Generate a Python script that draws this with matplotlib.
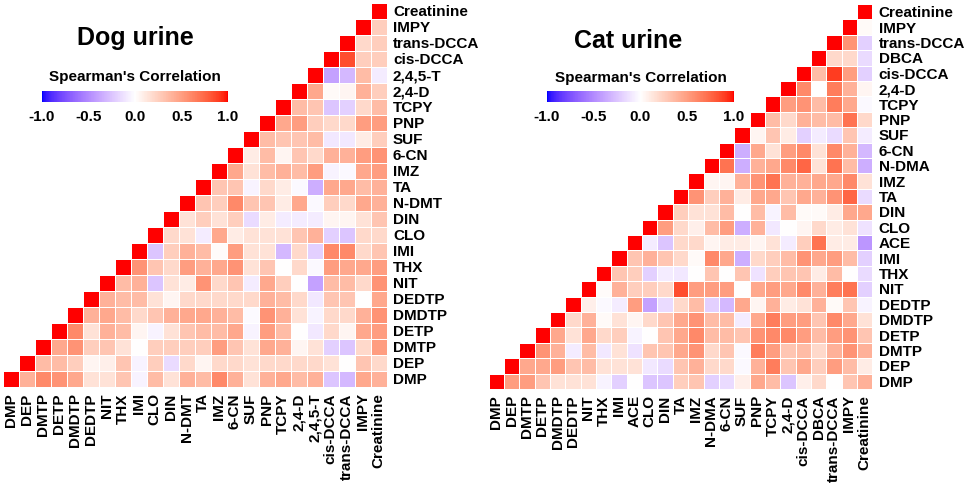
import numpy as np
import matplotlib
matplotlib.use("Agg")
import matplotlib.pyplot as plt
from matplotlib.colors import ListedColormap, Normalize
from matplotlib.cm import ScalarMappable

plt.rcParams['font.family'] = ['Liberation Sans', 'DejaVu Sans']
plt.rcParams['font.weight'] = 'bold'
plt.rcParams['axes.unicode_minus'] = False

# ============ DATA ============
# each row holds the correlations of that compound with the ones after it
dog_labels = ["DMP", "DEP", "DMTP", "DETP", "DMDTP", "DEDTP", "NIT", "THX", "IMI", "CLO",
              "DIN", "N-DMT", "TA", "IMZ", "6-CN", "SUF", "PNP", "TCPY", "2,4-D", "2,4,5-T",
              "cis-DCCA", "trans-DCCA", "IMPY", "Creatinine"]
dog_rows = [
    [0.4, 0.6, 0.55, 0.45, 0.15, 0.15, 0.3, -0.05, 0.35, 0.15, 0.4, 0.35, 0.6, 0.4, 0.15, 0.4, 0.45, 0.35, 0.4, -0.25, -0.3, 0.45, 0.4],
    [0.35, 0.35, 0.25, 0.05, 0.08, 0.3, -0.05, 0.25, -0.15, 0.2, 0.05, 0.2, 0.2, 0.15, 0.2, 0.2, 0.2, 0.2, 0.15, 0.0, 0.3, 0.2],
    [0.45, 0.55, 0.25, 0.3, 0.15, 0.0, 0.25, 0.25, 0.25, 0.25, 0.5, 0.3, 0.15, 0.45, 0.4, 0.05, 0.15, -0.2, -0.25, 0.2, 0.5],
    [0.6, 0.15, 0.4, 0.35, 0.05, -0.05, 0.15, 0.3, 0.35, 0.35, 0.45, -0.05, 0.5, 0.35, 0.0, -0.1, 0.2, 0.05, 0.45, 0.5],
    [0.4, 0.45, 0.35, 0.2, 0.3, 0.4, 0.45, 0.45, 0.4, 0.35, -0.02, 0.55, 0.4, 0.15, -0.05, 0.2, 0.2, 0.4, 0.55],
    [0.4, 0.35, 0.35, 0.15, 0.05, 0.2, 0.2, 0.2, 0.2, 0.2, 0.4, 0.35, 0.2, -0.1, 0.3, 0.3, 0.0, 0.45],
    [0.35, 0.4, -0.25, 0.15, 0.1, 0.55, 0.2, 0.3, -0.08, 0.45, 0.25, 0.0, -0.4, 0.35, 0.35, 0.2, 0.55],
    [0.55, 0.3, 0.2, 0.5, 0.4, 0.45, 0.55, 0.15, 0.3, 0.0, 0.2, -0.03, 0.5, 0.45, 0.45, 0.5],
    [-0.25, 0.25, 0.4, 0.35, 0.02, 0.5, 0.15, 0.15, -0.3, 0.2, -0.2, 0.6, 0.6, 0.2, 0.3],
    [0.2, 0.15, -0.08, 0.45, 0.1, 0.15, 0.15, 0.15, 0.3, 0.4, -0.2, -0.25, 0.2, 0.2],
    [0.15, 0.25, 0.15, 0.25, -0.15, 0.1, -0.08, -0.08, -0.08, 0.05, 0.05, 0.15, 0.3],
    [0.3, 0.25, 0.6, 0.3, 0.3, 0.1, 0.45, -0.03, 0.25, 0.2, 0.45, 0.4],
    [0.3, 0.3, -0.05, 0.2, 0.1, -0.03, -0.35, 0.45, 0.45, 0.35, 0.4],
    [0.45, 0.15, 0.35, 0.4, 0.35, 0.5, -0.05, -0.03, 0.45, 0.5],
    [0.1, 0.35, 0.05, 0.3, 0.2, 0.4, 0.4, 0.5, 0.55],
    [0.35, 0.3, 0.3, 0.35, -0.1, -0.1, 0.1, 0.25],
    [0.45, 0.5, 0.25, 0.2, 0.2, 0.5, 0.5],
    [0.35, 0.3, -0.25, -0.2, 0.2, 0.35],
    [0.45, 0.03, 0.05, 0.4, 0.25],
    [-0.4, -0.3, 0.35, -0.08],
    [0.85, 0.25, 0.25],
    [0.2, 0.25],
    [0.25],
    [],
]

cat_labels = ["DMP", "DEP", "DMTP", "DETP", "DMDTP", "DEDTP", "NIT", "THX", "IMI", "ACE",
              "CLO", "DIN", "TA", "IMZ", "N-DMA", "6-CN", "SUF", "PNP", "TCPY", "2,4-D",
              "cis-DCCA", "DBCA", "trans-DCCA", "IMPY", "Creatinine"]
cat_rows = [
    [0.5, 0.5, 0.3, 0.15, 0.15, 0.15, -0.05, -0.2, 0.0, -0.25, -0.25, 0.25, 0.3, -0.2, -0.15, 0.08, 0.45, 0.35, -0.25, 0.08, 0.2, 0.0, 0.3, 0.4],
    [0.45, 0.45, 0.5, 0.3, 0.35, 0.15, 0.15, 0.15, -0.1, -0.15, 0.3, 0.4, 0.2, 0.2, -0.03, 0.4, 0.65, 0.3, 0.45, 0.25, 0.5, 0.35, 0.1],
    [0.55, 0.4, -0.08, 0.35, -0.1, 0.15, -0.12, 0.3, 0.3, 0.45, 0.55, 0.2, 0.3, -0.03, 0.65, 0.5, 0.3, 0.35, 0.2, 0.4, 0.55, 0.4],
    [0.45, 0.15, 0.45, 0.2, 0.25, -0.05, 0.0, 0.3, 0.45, 0.6, 0.35, 0.35, 0.3, 0.55, 0.6, 0.6, 0.5, 0.35, 0.5, 0.55, 0.3],
    [0.2, 0.4, 0.03, 0.15, 0.05, 0.2, 0.3, 0.45, 0.55, 0.35, 0.35, -0.08, 0.45, 0.65, 0.5, 0.5, 0.3, 0.6, 0.45, 0.15],
    [0.08, -0.03, -0.08, 0.5, -0.4, -0.15, 0.2, 0.35, -0.2, -0.3, 0.45, 0.05, 0.4, 0.1, 0.15, 0.4, 0.03, 0.3, -0.05],
    [0.02, 0.4, 0.25, 0.25, 0.2, 0.85, 0.5, 0.5, 0.5, 0.0, 0.45, 0.5, 0.45, 0.6, 0.4, 0.65, 0.7, -0.2],
    [0.3, 0.25, -0.2, -0.08, -0.1, 0.0, 0.3, 0.0, 0.3, -0.12, 0.25, 0.3, 0.3, 0.1, 0.35, 0.0, -0.15],
    [0.3, 0.4, 0.3, 0.2, 0.03, 0.6, 0.45, -0.35, 0.2, 0.25, 0.35, 0.55, 0.45, 0.5, 0.35, -0.2],
    [-0.08, -0.25, 0.2, 0.2, 0.05, 0.1, 0.1, 0.05, 0.15, -0.08, 0.25, 0.7, 0.1, 0.1, -0.45],
    [0.5, 0.2, 0.08, 0.35, 0.5, -0.35, 0.4, -0.1, 0.0, 0.05, 0.2, 0.1, 0.15, -0.12],
    [0.25, 0.15, 0.15, 0.35, 0.0, 0.35, -0.05, 0.35, 0.03, 0.03, 0.1, 0.45, 0.45],
    [0.55, 0.25, 0.4, 0.1, 0.45, 0.45, 0.3, 0.45, 0.4, 0.55, 0.75, -0.15],
    [0.05, 0.05, 0.4, 0.55, 0.7, 0.4, 0.4, 0.45, 0.45, 0.6, 0.15],
    [0.7, -0.35, 0.4, 0.45, 0.6, 0.75, 0.15, 0.7, 0.35, -0.35],
    [-0.35, 0.45, 0.15, 0.5, 0.6, 0.15, 0.6, 0.4, -0.3],
    [0.05, 0.3, 0.1, -0.2, -0.08, -0.15, 0.3, -0.08],
    [0.35, 0.2, 0.4, 0.35, 0.35, 0.7, 0.2],
    [0.5, 0.55, 0.35, 0.65, 0.45, -0.03],
    [0.6, 0.0, 0.65, 0.4, 0.05],
    [0.35, 0.9, 0.5, -0.2],
    [0.2, 0.2, -0.15],
    [0.55, -0.2],
    [0.03],
    [],
]

cbar_ticks = [-1.0, -0.5, 0.0, 0.5, 1.0]

# ============ COLOURS (blue - white - red, mixed in Lab) ============
M_RGB2XYZ = np.array([[0.4124564, 0.3575761, 0.1804375],
                      [0.2126729, 0.7151522, 0.0721750],
                      [0.0193339, 0.1191920, 0.9503041]])
WHITE_XYZ = np.array([0.95047, 1.0, 1.08883])


def srgb_to_lab(c):
    c = np.asarray(c, float)
    lin = np.where(c <= 0.04045, c / 12.92, ((c + 0.055) / 1.055) ** 2.4)
    t = (lin @ M_RGB2XYZ.T) / WHITE_XYZ
    d = 6 / 29
    f = np.where(t > d ** 3, np.cbrt(t), t / (3 * d * d) + 4 / 29)
    return np.stack([116 * f[..., 1] - 16,
                     500 * (f[..., 0] - f[..., 1]),
                     200 * (f[..., 1] - f[..., 2])], -1)


def lab_to_srgb(lab):
    fy = (lab[..., 0] + 16) / 116
    f = np.stack([fy + lab[..., 1] / 500, fy, fy - lab[..., 2] / 200], -1)
    d = 6 / 29
    t = np.where(f > d, f ** 3, 3 * d * d * (f - 4 / 29))
    lin = np.clip((t * WHITE_XYZ) @ np.linalg.inv(M_RGB2XYZ).T, 0, 1)
    c = np.where(lin <= 0.0031308, 12.92 * lin, 1.055 * lin ** (1 / 2.4) - 0.055)
    return np.clip(c, 0, 1)


lab_blue = srgb_to_lab([0, 0, 1])
lab_white = srgb_to_lab([1, 1, 1])
lab_red = srgb_to_lab([1, 0, 0])
steps = np.linspace(-1, 1, 256)
lab_cols = np.array([lab_white + (-s) * (lab_blue - lab_white) if s < 0
                     else lab_white + s * (lab_red - lab_white) for s in steps])
cmap = ListedColormap(lab_to_srgb(lab_cols))
norm = Normalize(vmin=-1, vmax=1)


def draw_panel(ax, labels, rows):
    n = len(labels)
    mat = np.full((n, n), np.nan)
    for r, vals in enumerate(rows):
        mat[r, r] = 1.0
        mat[r, r + 1:] = vals
    ax.pcolormesh(np.arange(n + 1), np.arange(n + 1), np.ma.masked_invalid(mat),
                  cmap=cmap, norm=norm, edgecolors='white', linewidth=0.4)
    ax.set_xlim(0, n)
    ax.set_ylim(0, n)
    ax.set_xticks(np.arange(n) + 0.5)
    ax.set_xticklabels(labels, rotation=90)
    ax.yaxis.tick_right()
    ax.set_yticks(np.arange(n) + 0.5)
    ax.set_yticklabels(labels)
    ax.tick_params(length=0, pad=4.5, labelsize=11)
    for s in ax.spines.values():
        s.set_visible(False)


def draw_colorbar(fig, rect):
    cax = fig.add_axes(rect)
    cb = fig.colorbar(ScalarMappable(norm=norm, cmap=cmap), cax=cax, orientation='horizontal')
    cb.set_ticks(cbar_ticks)
    cb.set_ticklabels([f"{t:.1f}" for t in cbar_ticks])
    cb.outline.set_visible(False)
    cax.tick_params(length=0, pad=6, labelsize=11)


# ============ FIGURE ============
W, H = 969, 486
fig = plt.figure(figsize=(W / 100, H / 100), dpi=100)

ax_dog = fig.add_axes([2.7 / W, 1 - 387 / H, 384 / W, 384.3 / H])
draw_panel(ax_dog, dog_labels, dog_rows)
ax_cat = fig.add_axes([488.7 / W, 1 - 389 / H, 383.6 / W, 385 / H])
draw_panel(ax_cat, cat_labels, cat_rows)

draw_colorbar(fig, [42 / W, 1 - 102 / H, 186 / W, 11 / H])
draw_colorbar(fig, [547 / W, 1 - 102 / H, 187 / W, 11 / H])

fig.text(135.5 / W, 1 - 45 / H, "Dog urine", ha='center', va='baseline', fontsize=18, fontweight='bold')
fig.text(628 / W, 1 - 48 / H, "Cat urine", ha='center', va='baseline', fontsize=18, fontweight='bold')
fig.text(135 / W, 1 - 81 / H, "Spearman's Correlation", ha='center', va='baseline', fontsize=11, fontweight='bold')
fig.text(641 / W, 1 - 81.5 / H, "Spearman's Correlation", ha='center', va='baseline', fontsize=11, fontweight='bold')

fig.savefig("out.png", dpi=100)
